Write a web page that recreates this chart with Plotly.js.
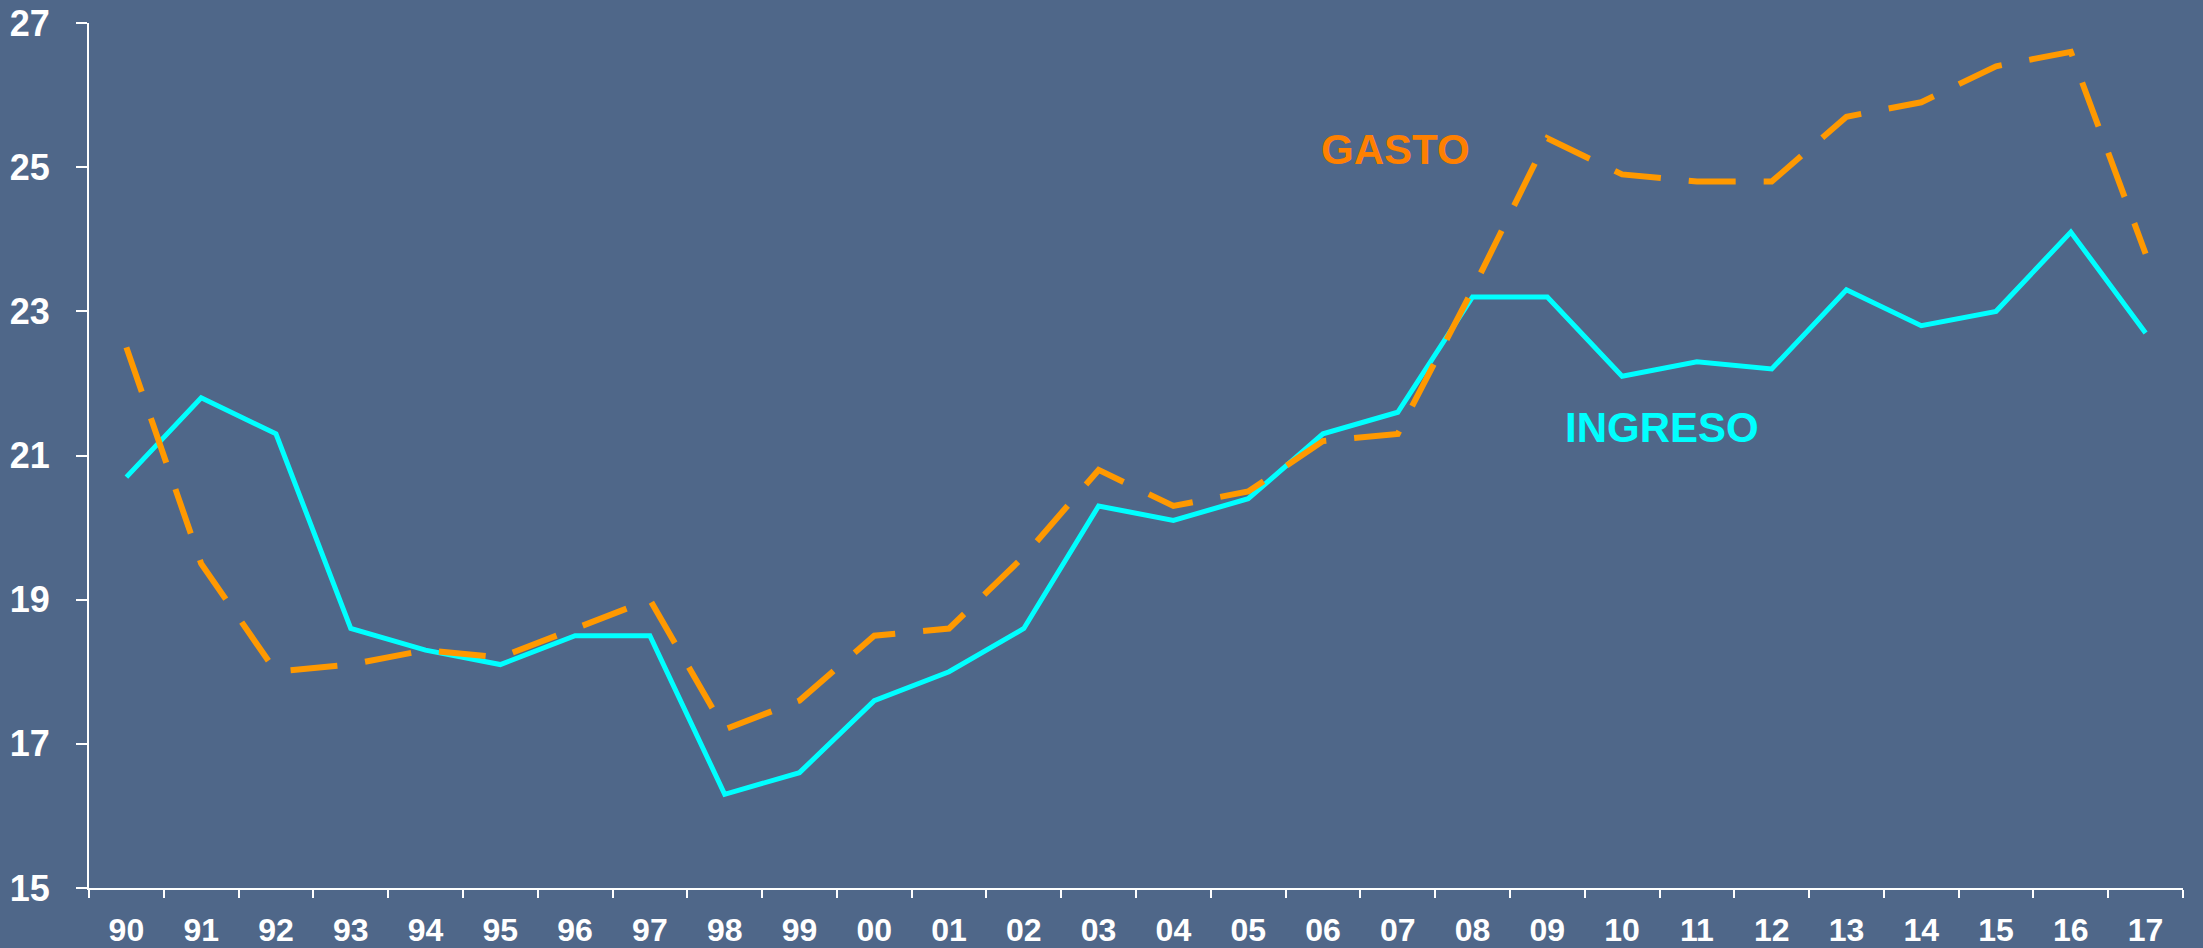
<!DOCTYPE html>
<html>
<head>
<meta charset="utf-8">
<script src="https://cdn.plot.ly/plotly-3.0.1.min.js"></script>
<style>
  html, body { margin: 0; padding: 0; background: #4F6789; }
  #chart { width: 2203px; height: 948px; }
</style>
</head>
<body>
<div id="chart"></div>
<script>
const years = ["90","91","92","93","94","95","96","97","98","99","00","01","02","03","04","05","06","07","08","09","10","11","12","13","14","15","16","17"];
const ingreso = [20.7,21.8,21.3,18.6,18.3,18.1,18.5,18.5,16.3,16.6,17.6,18.0,18.6,20.3,20.1,20.4,21.3,21.6,23.2,23.2,22.1,22.3,22.2,23.3,22.8,23.0,24.1,22.7];
const gasto = [22.5,19.5,18.0,18.1,18.3,18.2,18.6,19.0,17.2,17.6,18.5,18.6,19.6,20.8,20.3,20.5,21.2,21.3,23.3,25.4,24.9,24.8,24.8,25.7,25.9,26.4,26.6,23.8];
const yTicks = [15,17,19,21,23,25,27];

const FONT = "Liberation Sans, Arial, sans-serif";

const traces = [
  {
    x: years, y: ingreso, type: 'scatter', mode: 'lines', name: 'INGRESO',
    line: { color: '#00FFFF', width: 5 },
    hoverinfo: 'skip'
  },
  {
    x: years, y: gasto, type: 'scatter', mode: 'lines', name: 'GASTO',
    line: { color: '#FF9900', width: 6, dash: '47px,28px' },
    hoverinfo: 'skip'
  }
];

const layout = {
  width: 2203, height: 948,
  paper_bgcolor: '#4F6789', plot_bgcolor: '#4F6789',
  margin: { l: 89, r: 20, t: 23, b: 60 },
  showlegend: false,
  font: { family: FONT, color: '#FFFFFF' },
  xaxis: {
    type: 'category',
    range: [-0.5, 27.5],
    showgrid: false, zeroline: false,
    showline: true, linecolor: '#FFFFFF', linewidth: 2,
    ticks: 'outside', ticklen: 8, tickwidth: 2, tickcolor: '#FFFFFF',
    tickson: 'boundaries',
    ticklabelstandoff: 13,
    tickfont: { family: FONT, size: 32, color: '#FFFFFF', weight: 'bold' }
  },
  yaxis: {
    range: [15, 27],
    tickvals: yTicks,
    ticktext: yTicks.map(String),
    showgrid: false, zeroline: false,
    showline: true, linecolor: '#FFFFFF', linewidth: 2,
    ticks: 'outside', ticklen: 11, tickwidth: 2, tickcolor: '#FFFFFF',
    ticklabelstandoff: 19,
    tickfont: { family: FONT, size: 36, color: '#FFFFFF', weight: 'bold' }
  },
  annotations: [
    {
      text: 'GASTO', xref: 'paper', yref: 'paper', x: 0.6237, y: 0.8538,
      xanchor: 'center', yanchor: 'middle', showarrow: false,
      font: { family: FONT, size: 42, color: '#FF8000', weight: 'bold' }
    },
    {
      text: 'INGRESO', xref: 'paper', yref: 'paper', x: 0.7512, y: 0.5322,
      xanchor: 'center', yanchor: 'middle', showarrow: false,
      font: { family: FONT, size: 42, color: '#00FFFF', weight: 'bold' }
    }
  ]
};

Plotly.newPlot('chart', traces, layout, { displayModeBar: false, staticPlot: true });
</script>
</body>
</html>
